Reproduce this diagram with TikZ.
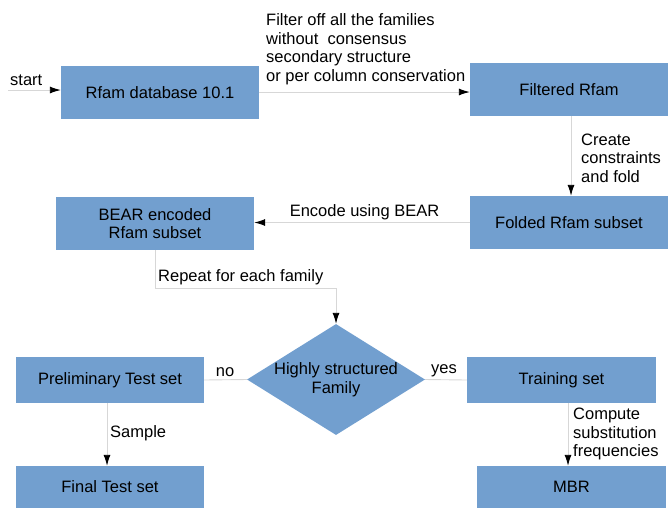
\documentclass[tikz,border=0pt]{standalone}
\usepackage{fontspec}
\setmainfont{Liberation Sans}
\definecolor{boxBlue}{RGB}{114,159,207}
\definecolor{lineGray}{RGB}{215,215,215}
\usepackage{tikz}
\usetikzlibrary{calc, positioning, shapes.geometric, arrows.meta}

\begin{document}
\begin{tikzpicture}[x=1pt, y=-1pt,
		every node/.style={font=\fontsize{16.5}{18.5}\selectfont},
		box/.style={rectangle, fill=boxBlue, inner sep=0pt, align=center},
		flow/.style={draw=lineGray, line width=0.9pt},
		tip/.style={-{Latex[black, length=11pt, width=7pt]}},
		lbl/.style={inner sep=0pt, align=left}]
		\clip (0,0) rectangle (668,507);
		%-------------------------------------------------------------------------------
		% pipeline
		%-------------------------------------------------------------------------------
		% boxes
		\node[box, minimum width=198, minimum height=53] (db) 
			at (160,92.5) {Rfam database 10.1};
		\node[box, minimum width=198, minimum height=53] (filt) 
			at (569,89.5) {Filtered Rfam};
		\node[box, minimum width=198, minimum height=53] (fold) 
			at (569,222.5) {Folded Rfam subset};
		\node[box, minimum width=198, minimum height=53] (bear) 
			at (155,223.5) {BEAR encoded\\Rfam subset};
		\node[diamond, fill=boxBlue, inner sep=-10pt, aspect=1.6, minimum width=178, minimum height=111, align=center] (fam) 
			at (336,379.5) {Highly structured\\Family};
		\node[box, minimum width=188, minimum height=46] (prelim) 
			at (110,380) {Preliminary Test set};
		\node[box, minimum width=189, minimum height=46] (train) 
			at (561.5,380) {Training set};
		\node[box, minimum width=188, minimum height=42] (final) 
			at (110,487) {Final Test set};
		\node[box, minimum width=189, minimum height=42] (mbr) 
			at (571.5,487) {MBR};
		\coordinate (in) at (8,90);
		
		% forward
		\draw[flow, tip] (in) -- (in -| db.west);
		\draw[flow, tip] ([yshift=0.5pt]db.east) -- ([yshift=0.5pt]db.east -| filt.west);
		\draw[flow, tip] ([xshift=2pt]filt.south) -- ([xshift=2pt]fold.north);
		\draw[flow, tip] (fold.west) -- (fold.west -| bear.east);
		\draw[flow, tip] (bear.south) -- ++(0,38.5) -| (fam.north);
		% decision
		\draw[flow] (fam.west) -- (prelim.east);
		\draw[flow] (fam.east) -- (train.west);
		\draw[flow, tip] ([xshift=-3pt]prelim.south) -- ([xshift=-3pt]final.north);
		\draw[flow, tip] ([xshift=6.5pt]train.south) -- ([xshift=-3.5pt]mbr.north);
		
		% labels
		\node[lbl, anchor=west] (lstart) at (10,80) {start};
		\node[lbl, anchor=west] (lfilt) at (266,49) {Filter off all the families\\without\ \ consensus\\secondary structure\\or per column conservation};
		\node[lbl, anchor=west] (lfold) at (581,158) {Create\\constraints\\and fold};
		\node[lbl] (lenc) at (364.5,212) {Encode using BEAR};
		\node[lbl, anchor=west] (lrep) at (158,277) {Repeat for each family};
		\node[lbl] (lno) at (225,372) {no};
		\node[lbl] (lyes) at (444,371) {yes};
		\node[lbl, anchor=west] (lsam) at (110,433) {Sample};
		\node[lbl, anchor=west] (lcomp) at (573,434) {Compute\\substitution\\frequencies};
		\end{tikzpicture}
\end{document}
